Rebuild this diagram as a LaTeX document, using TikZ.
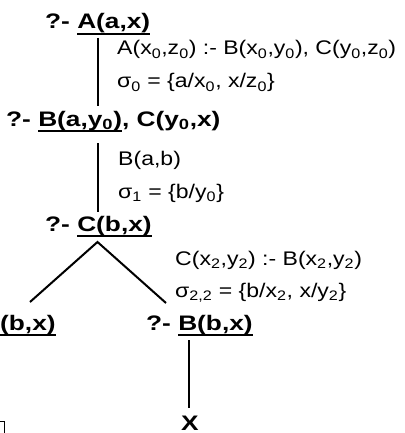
\documentclass[tikz,border=0pt]{standalone}
\usepackage{fontspec}
\usepackage{graphicx}
\setmainfont{Liberation Sans}
\newcommand{\sbs}[1]{\textsubscript{#1}}
\newcommand{\hs}[1]{\scalebox{1.25}[1]{#1}}
\newcommand{\hl}[1]{\scalebox{1.17}[1]{#1}}
\newcommand{\ulx}[1]{\setbox0\hbox{#1}\rlap{\rule[-6pt]{\wd0}{2pt}}\box0}
\begin{document}
\begin{tikzpicture}[x=1pt,y=-1pt,
  goal/.style={font=\fontsize{21}{25}\selectfont\bfseries, inner sep=0pt, anchor=base west},
  lab/.style={font=\fontsize{19.7}{23}\selectfont, inner sep=0pt, anchor=base west},
  edge/.style={line width=2pt}]
\useasboundingbox (0,0) rectangle (404,433);
% goals
\node[goal] (g1) at (45,29) {\hs{?- \ulx{A(a,x)}}};
\node[goal] (g2) at (6,126) {\hs{?- \ulx{B(a,y\sbs{0})}, C(y\sbs{0},x)}};
\node[goal] (g3) at (45,231) {\hs{?- \ulx{C(b,x)}}};
\node[goal] (g4) at (0,330) {\hs{\ulx{(b,x)}}};
\node[goal] (g5) at (146,330) {\hs{?- \ulx{B(b,x)}}};
\node[goal, anchor=base] (g6) at (190,430) {\hs{X}};
% labels
\node[lab] (l1) at (117,55) {\hl{A(x\sbs{0},z\sbs{0}) :- B(x\sbs{0},y\sbs{0}), C(y\sbs{0},z\sbs{0})}};
\node[lab] (l2) at (117,88) {\hl{σ\sbs{0} = \{a/x\sbs{0}, x/z\sbs{0}\}}};
\node[lab] (l3) at (118,165) {\hl{B(a,b)}};
\node[lab] (l4) at (118,198) {\hl{σ\sbs{1} = \{b/y\sbs{0}\}}};
\node[lab] (l5) at (175,265) {\hl{C(x\sbs{2},y\sbs{2}) :- B(x\sbs{2},y\sbs{2})}};
\node[lab] (l6) at (175,297) {\hl{σ\sbs{2,2} = \{b/x\sbs{2}, x/y\sbs{2}\}}};
% connector end points
\coordinate (c1a) at (97.5,38);
\coordinate (c1b) at (97.5,106);
\coordinate (c2a) at (97.5,143);
\coordinate (c2b) at (97.5,212);
\coordinate (c3) at (97.5,242);
\coordinate (c3l) at (30,302);
\coordinate (c3r) at (166,303);
\coordinate (c4a) at (189,340);
\coordinate (c4b) at (189,408);
\draw[edge] (c1a) -- (c1b);
\draw[edge] (c2a) -- (c2b);
\draw[edge] (c3l) -- (c3) -- (c3r);
\draw[edge] (c4a) -- (c4b);
% clipped box fragment
\coordinate (f1) at (0,421.5);
\coordinate (f2) at (4,421.5);
\coordinate (f3) at (4,433);
\draw[line width=1pt] (f1) -- (f2) -- (f3);
\end{tikzpicture}
\end{document}
